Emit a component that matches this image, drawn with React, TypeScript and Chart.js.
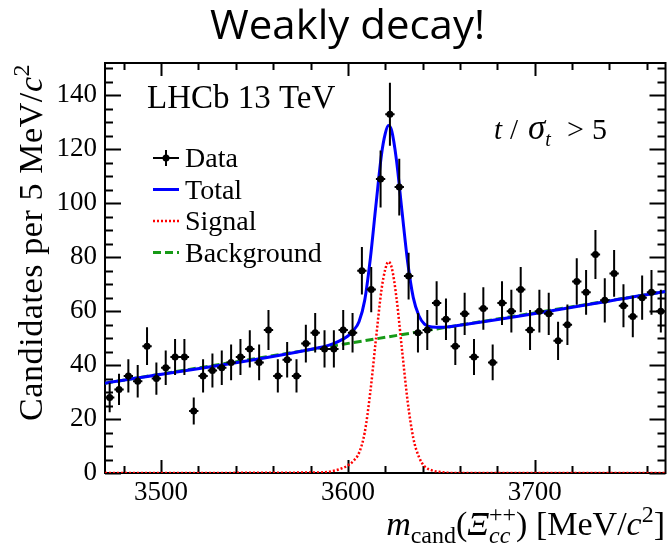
import React, { useEffect, useRef } from "react";
import { Chart, registerables } from "chart.js";

Chart.register(...registerables);

// ---------- data ----------
const binCenters = [
  3472.5, 3477.5, 3482.5, 3487.5, 3492.5, 3497.5, 3502.5, 3507.5, 3512.5, 3517.5,
  3522.5, 3527.5, 3532.5, 3537.5, 3542.5, 3547.5, 3552.5, 3557.5, 3562.5, 3567.5,
  3572.5, 3577.5, 3582.5, 3587.5, 3592.5, 3597.5, 3602.5, 3607.5, 3612.5, 3617.5,
  3622.5, 3627.5, 3632.5, 3637.5, 3642.5, 3647.5, 3652.5, 3657.5, 3662.5, 3667.5,
  3672.5, 3677.5, 3682.5, 3687.5, 3692.5, 3697.5, 3702.5, 3707.5, 3712.5, 3717.5,
  3722.5, 3727.5, 3732.5, 3737.5, 3742.5, 3747.5, 3752.5, 3757.5, 3762.5, 3767.5,
];
const counts = [
  28, 31, 36, 34, 47, 35, 39, 43, 43, 23,
  36, 38, 39, 41, 43, 46, 41, 53, 36, 42,
  36, 48, 52, 46, 46, 53, 52, 75, 68, 109,
  133, 106, 73, 52, 53, 63, 57, 47, 59, 43,
  61, 41, 63, 60, 68, 53, 60, 59, 49, 55,
  71, 67, 81, 64, 74, 62, 58, 65, 67, 60,
];
const countErrors = [
  5.5, 5.8, 6.2, 6.0, 7.0, 6.0, 6.4, 6.7, 6.7, 5.0,
  6.2, 6.3, 6.4, 6.6, 6.7, 6.9, 6.6, 7.4, 6.2, 6.6,
  6.2, 7.0, 7.3, 6.9, 6.9, 7.4, 7.3, 8.8, 8.4, 10.6,
  11.7, 10.5, 8.7, 7.3, 7.4, 8.1, 7.7, 7.0, 7.8, 6.7,
  7.9, 6.6, 8.1, 7.9, 8.4, 7.4, 7.9, 7.8, 7.1, 7.5,
  8.6, 8.3, 9.1, 8.2, 8.7, 8.0, 7.7, 8.2, 8.3, 7.9,
];
const binHalfWidth = 2.5;

// fit curves
const curveMass = [
  3470, 3585, 3590, 3595, 3600, 3603, 3606, 3609, 3612, 3615, 3618, 3620,
  3621.7, 3623.5, 3626, 3629, 3632, 3635, 3638, 3641, 3645, 3650, 3658, 3770,
];
const signalValues = [
  0, 0.2, 0.5, 1.3, 2.8, 4.5, 7.5, 15, 30, 49.5, 68, 75.5,
  78.3, 76, 65, 45.5, 26.5, 13, 6, 2.5, 1, 0.3, 0, 0,
];
const totalValues = [
  33.3, 46.5, 47.4, 48.8, 50.8, 52.9, 56.2, 64.0, 79.4, 99.2, 118.1, 125.8,
  128.8, 126.7, 116.0, 96.8, 78.2, 65.0, 58.3, 55.2, 54.1, 54.0, 54.6, 67.3,
];
const bgMass = [3470, 3770];
const bgValues = [33.3, 67.3];

const xMin = 3470;
const xMax = 3770;
const yMin = 0;
const yMax = 152;
const xTickValues = [3500, 3600, 3700];
const xMinorTicks = [3480, 3500, 3520, 3540, 3560, 3580, 3600, 3620, 3640, 3660, 3680, 3700, 3720, 3740, 3760];
const yTickValues = [0, 20, 40, 60, 80, 100, 120, 140];
const yMinorTicks = [
  0, 5, 10, 15, 20, 25, 30, 35, 40, 45, 50, 55, 60, 65, 70, 75,
  80, 85, 90, 95, 100, 105, 110, 115, 120, 125, 130, 135, 140, 145, 150,
];

// ---------- styles ----------
const SERIF = '"Liberation Serif", "Times New Roman", serif';
const BLUE = "#0000ff";
const RED = "#ff0000";
const GREEN = "#169a16";

const framePlugin = {
  id: "frameTicks",
  beforeDatasetsDraw(chart: any) {
    const { ctx, chartArea: a, scales } = chart;
    const xs = scales.x;
    const ys = scales.y;
    ctx.save();
    ctx.strokeStyle = "#000";
    ctx.lineWidth = 2;
    ctx.beginPath();
    xMinorTicks.forEach((v) => {
      const px = Math.round(xs.getPixelForValue(v)) + 0.5;
      const L = xTickValues.includes(v) ? 13 : 7;
      ctx.moveTo(px, a.bottom);
      ctx.lineTo(px, a.bottom - L);
      ctx.moveTo(px, a.top);
      ctx.lineTo(px, a.top + L);
    });
    yMinorTicks.forEach((v) => {
      const py = Math.round(ys.getPixelForValue(v)) + 0.5;
      const L = yTickValues.includes(v) ? 16 : 8;
      ctx.moveTo(a.left, py);
      ctx.lineTo(a.left + L, py);
      ctx.moveTo(a.right, py);
      ctx.lineTo(a.right - L, py);
    });
    ctx.stroke();
    ctx.strokeRect(a.left, a.top, a.right - a.left, a.bottom - a.top);
    ctx.restore();
  },
};

const errorBarPlugin = {
  id: "errorBars",
  afterDatasetsDraw(chart: any) {
    const { ctx, scales } = chart;
    const xs = scales.x;
    const ys = scales.y;
    ctx.save();
    ctx.strokeStyle = "#000";
    ctx.lineWidth = 2;
    ctx.beginPath();
    binCenters.forEach((m, i) => {
      const px = xs.getPixelForValue(m);
      const py = ys.getPixelForValue(counts[i]);
      const pTop = ys.getPixelForValue(counts[i] + countErrors[i]);
      const pBot = ys.getPixelForValue(counts[i] - countErrors[i]);
      const pl = xs.getPixelForValue(m - binHalfWidth);
      const pr = xs.getPixelForValue(m + binHalfWidth);
      ctx.moveTo(px, pTop);
      ctx.lineTo(px, pBot);
      ctx.moveTo(pl, py);
      ctx.lineTo(pr, py);
    });
    ctx.stroke();
    ctx.restore();
  },
};

type Seg = { t: string; f: string; dy: number; up?: { t: string; f: string; dy: number } };

function segsWidth(ctx: CanvasRenderingContext2D, segs: Seg[]) {
  let w = 0;
  segs.forEach((s) => {
    ctx.font = s.f;
    let sw = ctx.measureText(s.t).width;
    if (s.up) {
      ctx.font = s.up.f;
      sw = Math.max(sw, ctx.measureText(s.up.t).width);
    }
    w += sw;
  });
  return w;
}

function drawSegs(ctx: CanvasRenderingContext2D, segs: Seg[], x: number, y: number) {
  let cx = x;
  segs.forEach((s) => {
    ctx.font = s.f;
    let sw = ctx.measureText(s.t).width;
    ctx.fillText(s.t, cx, y + s.dy);
    if (s.up) {
      ctx.font = s.up.f;
      const uw = ctx.measureText(s.up.t).width;
      ctx.fillText(s.up.t, cx, y + s.up.dy);
      sw = Math.max(sw, uw);
    }
    cx += sw;
  });
}

const textPlugin = {
  id: "texts",
  afterDraw(chart: any) {
    const ctx: CanvasRenderingContext2D = chart.ctx;
    ctx.save();
    ctx.fillStyle = "#000";
    ctx.textBaseline = "alphabetic";
    ctx.textAlign = "left";

    // Title
    ctx.font = '40px "Open Sans", "Noto Sans", sans-serif';
    const title = "Weakly decay!";
    const tw = ctx.measureText(title).width;
    const targetW = 275;
    ctx.save();
    ctx.translate(210, 39);
    ctx.scale(targetW / tw, 1);
    ctx.fillText(title, 0, 0);
    ctx.restore();

    // LHCb label
    ctx.font = `33px ${SERIF}`;
    ctx.fillText("LHCb 13 TeV", 147, 108);

    // t / sigma_t > 5
    ctx.font = `italic 29px ${SERIF}`;
    ctx.fillText("t", 494, 139);
    ctx.font = `29px ${SERIF}`;
    ctx.fillText("/", 510, 139);
    ctx.font = `italic 35px ${SERIF}`;
    ctx.fillText("σ", 528, 139);
    const sw = ctx.measureText("σ").width;
    ctx.font = `italic 20px ${SERIF}`;
    ctx.fillText("t", 528 + sw, 146);
    ctx.font = `30px ${SERIF}`;
    ctx.fillText(">", 567, 139);
    ctx.fillText("5", 592, 139);

    // Legend
    const rows = [158, 189.5, 221, 252.5];
    const x0 = 153;
    const x1 = 179;
    ctx.lineWidth = 2;
    ctx.strokeStyle = "#000";
    ctx.beginPath();
    ctx.moveTo(x0, rows[0]);
    ctx.lineTo(x1, rows[0]);
    ctx.moveTo((x0 + x1) / 2, rows[0] - 8);
    ctx.lineTo((x0 + x1) / 2, rows[0] + 8);
    ctx.stroke();
    ctx.beginPath();
    ctx.arc((x0 + x1) / 2, rows[0], 3.5, 0, Math.PI * 2);
    ctx.fill();

    ctx.lineWidth = 3;
    ctx.strokeStyle = BLUE;
    ctx.beginPath();
    ctx.moveTo(x0, rows[1]);
    ctx.lineTo(x1, rows[1]);
    ctx.stroke();

    ctx.lineWidth = 2.5;
    ctx.strokeStyle = RED;
    ctx.setLineDash([2, 2]);
    ctx.beginPath();
    ctx.moveTo(x0, rows[2]);
    ctx.lineTo(x1, rows[2]);
    ctx.stroke();

    ctx.lineWidth = 3;
    ctx.strokeStyle = GREEN;
    ctx.setLineDash([8, 4]);
    ctx.beginPath();
    ctx.moveTo(x0, rows[3]);
    ctx.lineTo(x1, rows[3]);
    ctx.stroke();
    ctx.setLineDash([]);

    ctx.font = `28px ${SERIF}`;
    ["Data", "Total", "Signal", "Background"].forEach((t, i) => {
      ctx.fillText(t, 185, rows[i] + 9);
    });

    // X axis title
    const big = `34px ${SERIF}`;
    const bigI = `italic 34px ${SERIF}`;
    const small = `24px ${SERIF}`;
    const smallI = `italic 24px ${SERIF}`;
    const xSegs: Seg[] = [
      { t: "m", f: bigI, dy: 0 },
      { t: "cand", f: small, dy: 8 },
      { t: "(", f: big, dy: 0 },
      { t: "Ξ", f: bigI, dy: 0 },
      { t: "cc", f: smallI, dy: 8, up: { t: "++", f: small, dy: -13 } },
      { t: ")", f: big, dy: 0 },
      { t: " [MeV/", f: big, dy: 0 },
      { t: "c", f: bigI, dy: 0 },
      { t: "2", f: small, dy: -13 },
      { t: "]", f: big, dy: 0 },
    ];
    const xw = segsWidth(ctx, xSegs);
    drawSegs(ctx, xSegs, 665 - xw, 535);

    // Y axis title
    const ySegs: Seg[] = [
      { t: "Candidates per 5 MeV/", f: big, dy: 0 },
      { t: "c", f: bigI, dy: 0 },
      { t: "2", f: small, dy: -13 },
    ];
    ctx.save();
    ctx.translate(42, 421);
    ctx.rotate(-Math.PI / 2);
    (ctx as any).letterSpacing = "0.6px";
    drawSegs(ctx, ySegs, 0, 0);
    (ctx as any).letterSpacing = "0px";
    ctx.restore();

    ctx.restore();
  },
};

export default function App() {
  const canvasRef = useRef<HTMLCanvasElement | null>(null);

  useEffect(() => {
    const canvas = canvasRef.current;
    if (!canvas) return;
    const chart = new Chart(canvas, {
      type: "scatter",
      data: {
        datasets: [
          {
            label: "Data",
            data: binCenters.map((x, i) => ({ x, y: counts[i] })),
            showLine: false,
            pointRadius: 3.5,
            pointHoverRadius: 3.5,
            pointBackgroundColor: "#000",
            pointBorderWidth: 0,
            order: 0,
          },
          {
            label: "Total",
            data: curveMass.map((x, i) => ({ x, y: totalValues[i] })),
            showLine: true,
            borderColor: BLUE,
            borderWidth: 3,
            pointRadius: 0,
            cubicInterpolationMode: "monotone",
            order: 1,
          },
          {
            label: "Signal",
            data: curveMass.map((x, i) => ({ x, y: signalValues[i] })),
            showLine: true,
            borderColor: RED,
            borderWidth: 2.5,
            borderDash: [2, 2],
            pointRadius: 0,
            cubicInterpolationMode: "monotone",
            order: 2,
          },
          {
            label: "Background",
            data: bgMass.map((x, i) => ({ x, y: bgValues[i] })),
            showLine: true,
            borderColor: GREEN,
            borderWidth: 3,
            borderDash: [8, 4],
            pointRadius: 0,
            order: 3,
          },
        ] as any,
      },
      options: {
        responsive: false,
        animation: false,
        devicePixelRatio: 1,
        layout: { padding: { top: 63, right: 2, left: 0, bottom: 0 } },
        plugins: {
          legend: { display: false },
          tooltip: { enabled: false },
          title: { display: false },
        },
        scales: {
          x: {
            type: "linear",
            min: xMin,
            max: xMax,
            afterBuildTicks: (s: any) => {
              s.ticks = xTickValues.map((v) => ({ value: v }));
            },
            afterFit: (s: any) => {
              s.height = 73;
            },
            grid: { display: false, drawTicks: false },
            border: { display: false },
            ticks: {
              color: "#000",
              font: { family: SERIF, size: 27 },
              padding: 4,
              maxRotation: 0,
              autoSkip: false,
              callback: (v: any) => String(v),
            },
          },
          y: {
            type: "linear",
            min: yMin,
            max: yMax,
            afterBuildTicks: (s: any) => {
              s.ticks = yTickValues.map((v) => ({ value: v }));
            },
            afterFit: (s: any) => {
              s.width = 105;
            },
            grid: { display: false, drawTicks: false },
            border: { display: false },
            ticks: {
              color: "#000",
              font: { family: SERIF, size: 27 },
              padding: 8,
              autoSkip: false,
              callback: (v: any) => String(v),
            },
          },
        },
      } as any,
      plugins: [framePlugin, errorBarPlugin, textPlugin],
    });
    return () => chart.destroy();
  }, []);

  return (
    <div style={{ position: "absolute", left: 0, top: 0, width: 669, height: 546, background: "#fff" }}>
      <canvas ref={canvasRef} width={669} height={546} style={{ display: "block", width: 669, height: 546 }} />
    </div>
  );
}
